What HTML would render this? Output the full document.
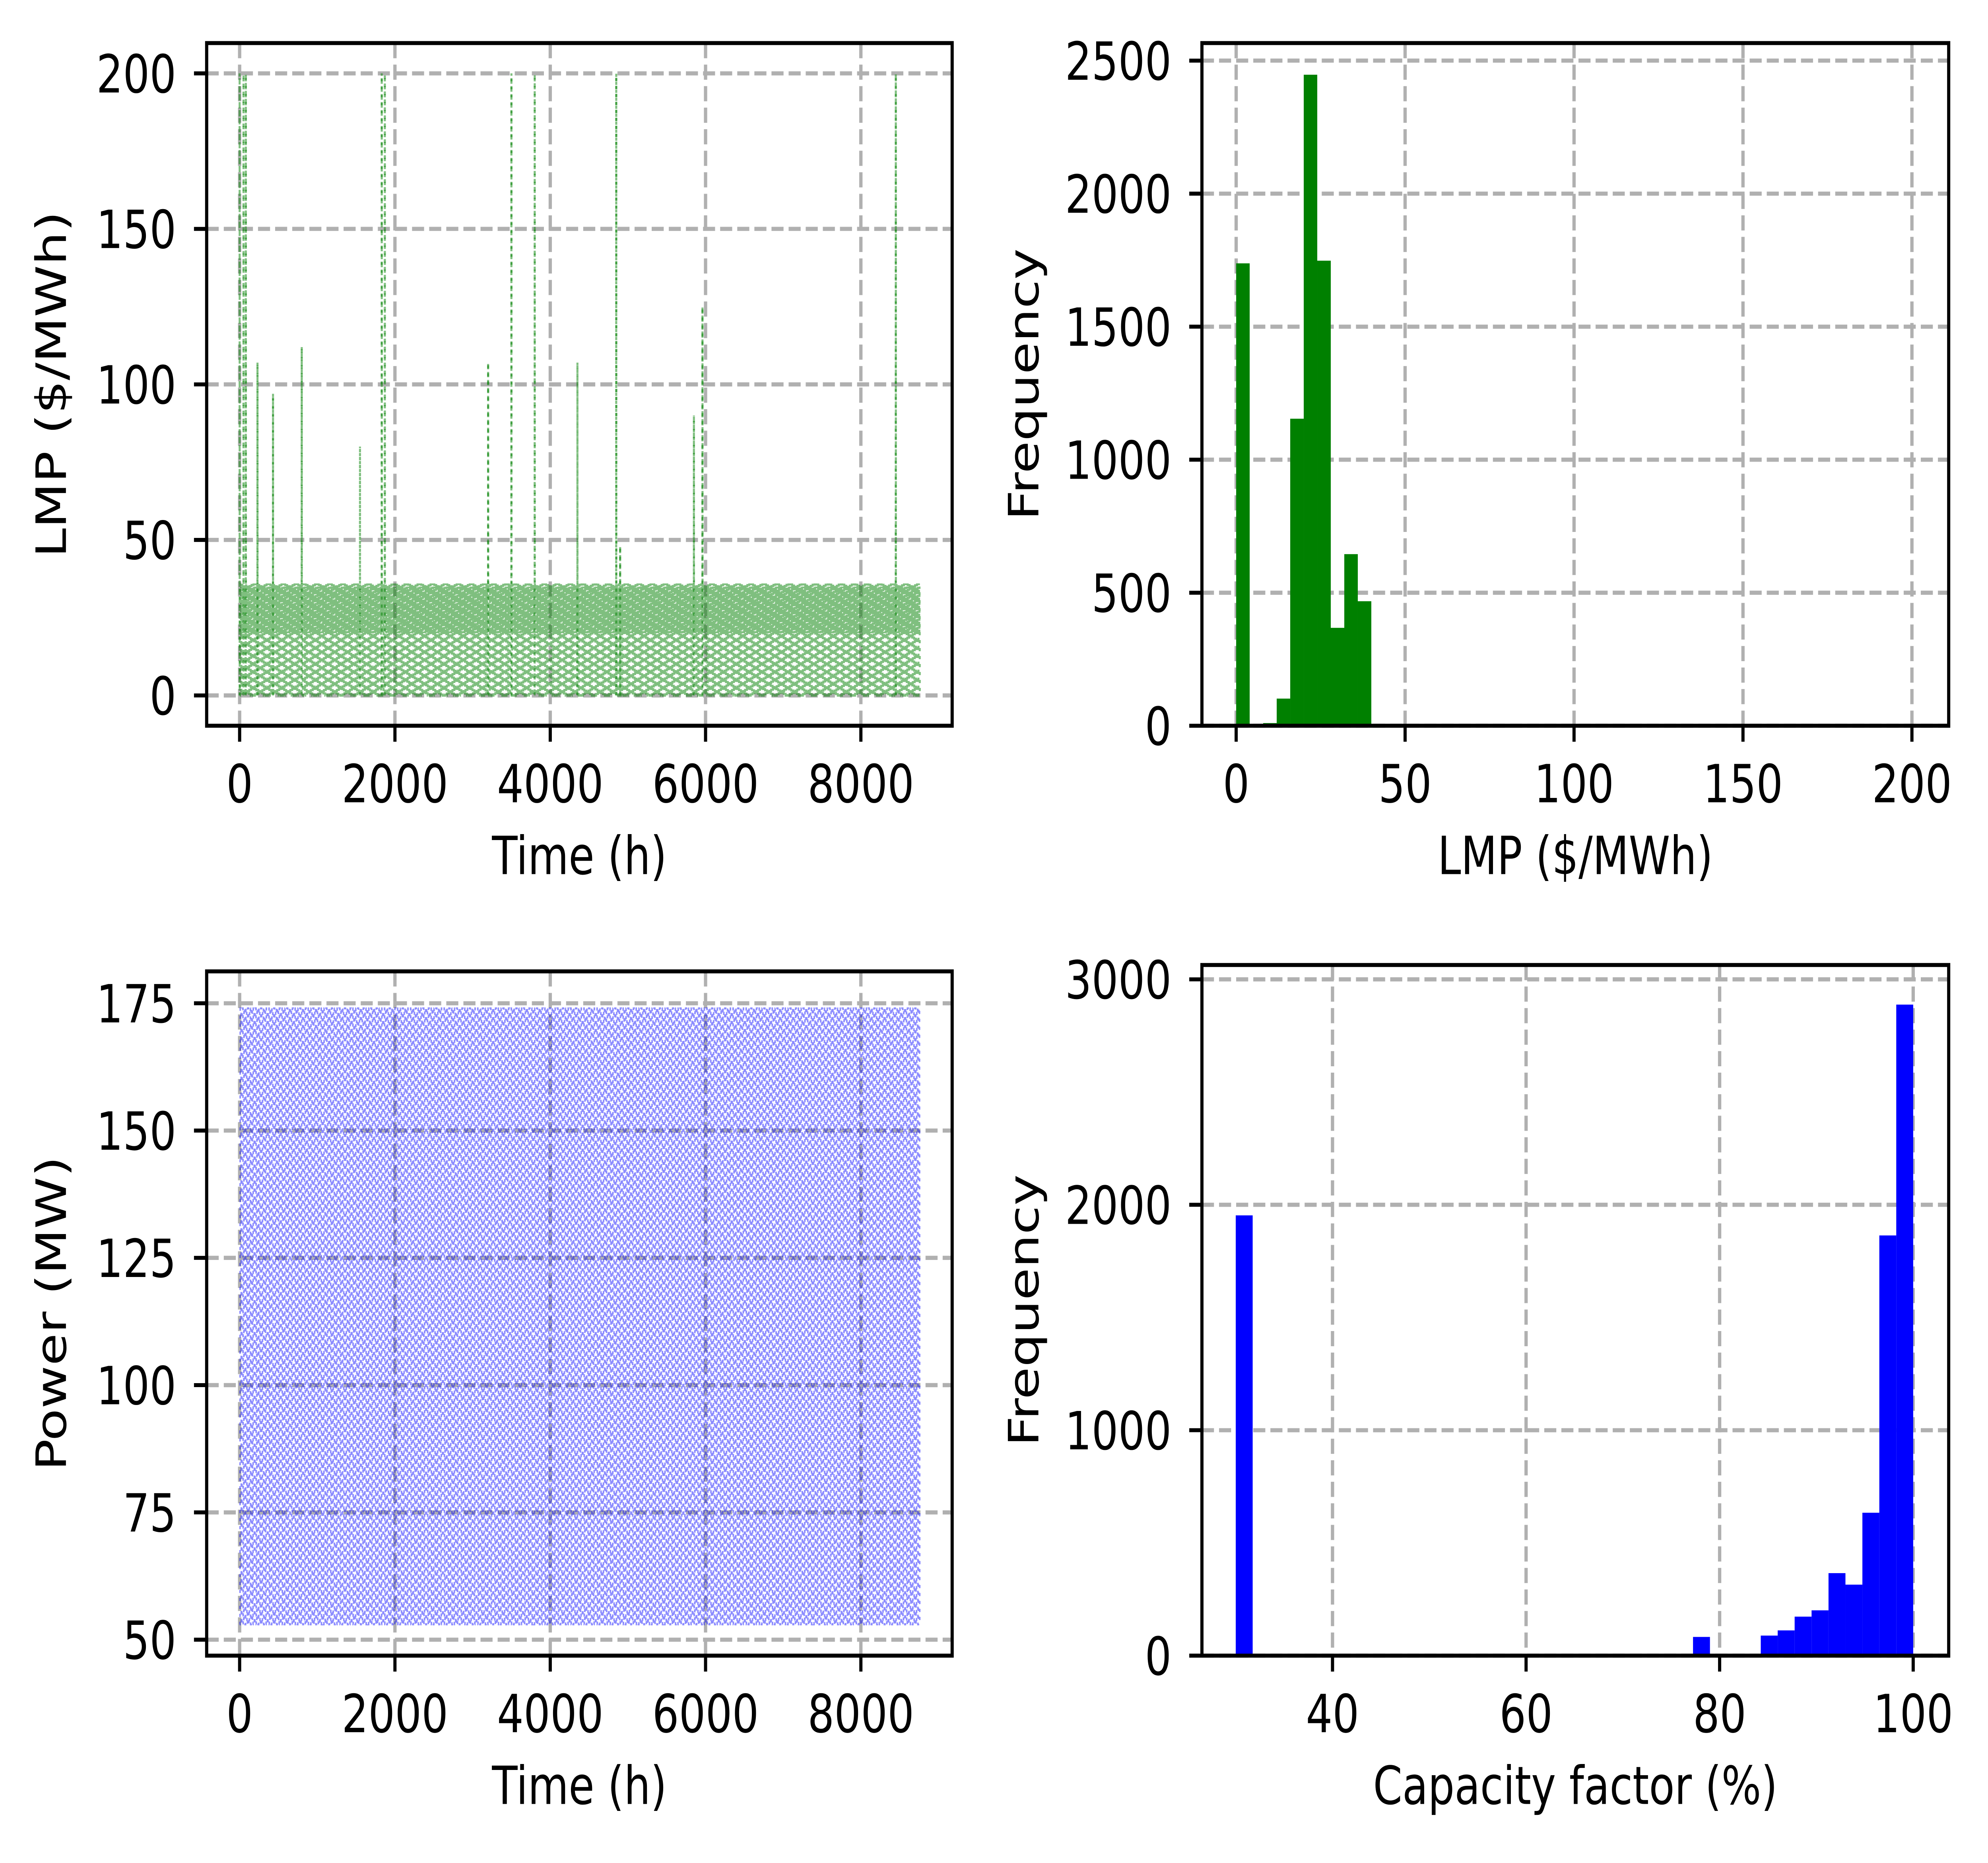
<!DOCTYPE html>
<html><head><meta charset="utf-8"><style>
html,body{margin:0;padding:0;background:#fff;width:100%;height:100%;overflow:hidden}
svg{display:block;position:absolute;left:0;top:0;width:100vw;height:100vh}
text{font-family:"DejaVu Sans","Liberation Sans",sans-serif;fill:#000}
</style></head><body>
<svg id="svgroot" viewBox="0 0 1568 1168" preserveAspectRatio="none" xmlns="http://www.w3.org/2000/svg">
<rect width="1568" height="1168" fill="#fff"/>
<g id="fig"></g>
</svg>
<script>
// ---- data ----
const lmpDailyProfile=[0,0,0,0,0,0,20,25,30,33,35,36,34,30,28,25,22,20,30,35,32,25,10,0];
const lmpSpikeHours=[0,50,80,230,430,800,1550,1830,1870,3200,3500,3800,4350,4850,4900,5850,5960,8450];
const lmpSpikeValues=[200,200,200,107,97,112,80,200,200,107,200,200,107,200,48,90,125,200];
const powerDailyProfile=[53,53,53,53,53,53,100,150,174,174,174,174,174,174,174,174,174,174,174,174,150,100,53,53];
const nHours=8760;
const lmpBinStart=[0,4,8,12,16,20,24,28,32,36];
const lmpBinCounts=[1738,0,10,102,1154,2447,1748,368,645,468];
const lmpBinWidth=4;
const cfBinWidth=1.75;
const cfBinStart=30;
const cfBinCounts=[1953,0,0,0,0,0,0,0,0,0,0,0,0,0,0,0,0,0,0,0,0,0,0,0,0,0,0,83,0,0,0,89,112,173,201,366,315,634,1864,2888];
const tlXTicks=[0,2000,4000,6000,8000], tlYTicks=[0,50,100,150,200];
const trXTicks=[0,50,100,150,200], trYTicks=[0,500,1000,1500,2000,2500];
const blXTicks=[0,2000,4000,6000,8000], blYTicks=[50,75,100,125,150,175];
const brXTicks=[40,60,80,100], brYTicks=[0,1000,2000,3000];

const NS="http://www.w3.org/2000/svg";
const svg=document.getElementById('fig');
const FS=33;
function el(tag,attrs,parent){const e=document.createElementNS(NS,tag);for(const k in attrs)e.setAttribute(k,attrs[k]);(parent||svg).appendChild(e);return e;}
function lin(d0,d1,p0,p1){return v=>p0+(v-d0)*(p1-p0)/(d1-d0);}

function makeAxes(name,box,xs,ys,xt,yt,xl,yl,draw){
  const g=el('g',{});
  
  
  xt.forEach(v=>{const l=el('line',{x1:xs(v),x2:xs(v),y1:box.t,y2:box.b,stroke:'#b0b0b0','stroke-width':2.6,'stroke-dasharray':'9.5,4'},g);
    });
  yt.forEach(v=>{const l=el('line',{x1:box.l,x2:box.r,y1:ys(v),y2:ys(v),stroke:'#b0b0b0','stroke-width':2.6,'stroke-dasharray':'9.5,4'},g);
    });
  draw(g);
  const f=el('rect',{x:box.l,y:box.t,width:box.r-box.l,height:box.b-box.t,fill:'none',stroke:'#000','stroke-width':2.5},g);
  
  xt.forEach(v=>{el('line',{x1:xs(v),x2:xs(v),y1:box.b,y2:box.b+10,stroke:'#000','stroke-width':2.5},g);
    const t=el('text',{x:xs(v),y:box.b+48,'font-size':FS,'text-anchor':'middle'},g);t.textContent=v;
    });
  yt.forEach(v=>{el('line',{x1:box.l-10,x2:box.l,y1:ys(v),y2:ys(v),stroke:'#000','stroke-width':2.5},g);
    const t=el('text',{x:box.l-24,y:ys(v)+12,'font-size':FS,'text-anchor':'end'},g);t.textContent=v;
    });
  const xlab=el('text',{x:(box.l+box.r)/2,y:box.b+93,'font-size':FS,'text-anchor':'middle'},g);xlab.textContent=xl;
  
  const yx=box.ylx, yc=(box.t+box.b)/2;
  const ylab=el('text',{x:yx,y:yc,'font-size':FS,'text-anchor':'middle',transform:`rotate(-90 ${yx} ${yc})`},g);ylab.textContent=yl;
  
}

// Top-left LMP time series
{const box={l:163,r:751,t:27,b:455,ylx:52};
 const xs=lin(0,8000,189,679), ys=lin(0,200,436,46);
 makeAxes('lmp-timeseries-axes',box,xs,ys,tlXTicks,tlYTicks,'Time (h)','LMP ($/MWh)',g=>{
  let d='';
  for(let h=0;h<nHours;h++){
    let v=lmpDailyProfile[h%24];
    const si=lmpSpikeHours.indexOf(h); if(si>=0) v=lmpSpikeValues[si];
    d+=(h?'L':'M')+xs(h).toFixed(2)+' '+ys(v).toFixed(2);
  }
  const p=el('path',{d:d,fill:'none',stroke:'#008000','stroke-opacity':0.5,'stroke-width':1.6,'stroke-dasharray':'2,3'},g);
  
  lmpSpikeHours.forEach((hh,i)=>{const s=el('line',{x1:xs(hh),x2:xs(hh),y1:ys(0),y2:ys(lmpSpikeValues[i]),stroke:'#008000','stroke-opacity':0.5,'stroke-width':1.6,'stroke-dasharray':'2,3'},g);
    });
 });}

// Top-right LMP histogram
{const box={l:948,r:1537,t:27,b:455,ylx:819};
 const xs=lin(0,200,975,1508), ys=lin(0,2500,455,38);
 makeAxes('lmp-histogram-axes',box,xs,ys,trXTicks,trYTicks,'LMP ($/MWh)','Frequency',g=>{
  lmpBinCounts.forEach((c,i)=>{if(!c)return;const x0=xs(lmpBinStart[i]),x1=xs(lmpBinStart[i]+lmpBinWidth);
   const r=el('rect',{x:x0,y:ys(c),width:x1-x0,height:ys(0)-ys(c),fill:'#008000'},g);
   });
 });}

// Bottom-left power time series
{const box={l:163,r:751,t:609,b:1038,ylx:52};
 const xs=lin(0,8000,189,679), ys=lin(50,175,1028,629);
 makeAxes('power-timeseries-axes',box,xs,ys,blXTicks,blYTicks,'Time (h)','Power (MW)',g=>{
  let d='';
  for(let h=0;h<nHours;h++){const v=powerDailyProfile[h%24];d+=(h?'L':'M')+xs(h).toFixed(2)+' '+ys(v).toFixed(2);}
  const p=el('path',{d:d,fill:'none',stroke:'#0000ff','stroke-opacity':0.45,'stroke-width':1.2,'stroke-dasharray':'2,3'},g);
  
 });}

// Bottom-right capacity factor histogram
{const box={l:948,r:1537,t:605,b:1038,ylx:819};
 const xs=lin(40,100,1051,1509), ys=lin(0,3000,1038,614);
 makeAxes('capacity-factor-histogram-axes',box,xs,ys,brXTicks,brYTicks,'Capacity factor (%)','Frequency',g=>{
  cfBinCounts.forEach((c,i)=>{if(!c)return;const x0=xs(cfBinStart+i*cfBinWidth),x1=xs(cfBinStart+(i+1)*cfBinWidth);
   const r=el('rect',{x:x0,y:ys(c),width:x1-x0,height:ys(0)-ys(c),fill:'#0000ff'},g);
   });
 });}
</script>
</body></html>
